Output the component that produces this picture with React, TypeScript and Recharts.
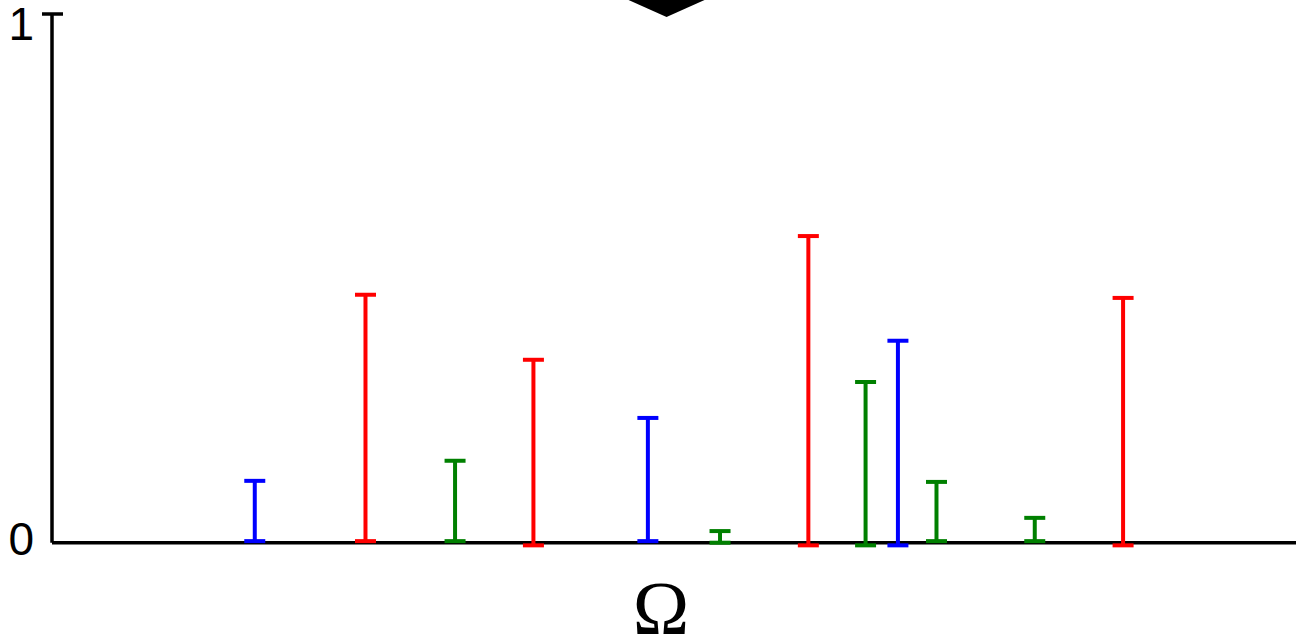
import {
  ErrorBar,
  Label,
  ReferenceDot,
  ReferenceLine,
  Scatter,
  ScatterChart,
  XAxis,
  YAxis,
} from "recharts";

// positions along Ω (0..100 across the axis) and the low / high end of each stem
const bluePos = [16.3, 47.9, 68.0];
const blueHigh = [0.117, 0.236, 0.382];
const blueLow = [0.003, 0.003, -0.005];

const redPos = [25.2, 38.7, 60.8, 86.1];
const redHigh = [0.469, 0.346, 0.58, 0.463];
const redLow = [0.003, -0.005, -0.005, -0.005];

const greenPos = [32.4, 53.7, 65.4, 71.1, 79.0];
const greenHigh = [0.155, 0.022, 0.304, 0.115, 0.047];
const greenLow = [0.003, 0.0, -0.005, 0.003, 0.003];

const yTicks = [0, 1];
const markerPos = 49.4;
const axisLabel = "Ω";

const toRows = (pos: number[], low: number[], high: number[]) =>
  pos.map((x, i) => ({ x, y: low[i], err: [0, high[i] - low[i]] }));

const series = [
  { name: "blue", color: "#0000ff", rows: toRows(bluePos, blueLow, blueHigh) },
  { name: "red", color: "#ff0000", rows: toRows(redPos, redLow, redHigh) },
  { name: "green", color: "#008000", rows: toRows(greenPos, greenLow, greenHigh) },
];

function YTick(props: any) {
  const { x, y, payload } = props;
  const top = payload.value === 1;
  return (
    <g>
      {top && (
        <line x1={x + 8} x2={x + 29} y1={y} y2={y} stroke="#000" strokeWidth={3.5} />
      )}
      <text
        x={x}
        y={y + (top ? 26 : 12)}
        textAnchor="end"
        fontSize={46}
        fontFamily="'Liberation Sans', Arial, sans-serif"
        fill="#000"
      >
        {payload.value}
      </text>
    </g>
  );
}

function Marker(props: any) {
  const { cx, cy } = props;
  return (
    <polygon
      points={`${cx - 38},${cy - 14} ${cx + 38},${cy - 14} ${cx},${cy + 3}`}
      fill="#000"
    />
  );
}

export default function App() {
  return (
    <div style={{ position: "absolute", left: 0, top: 0 }}>
      <ScatterChart
        width={1296}
        height={642}
        margin={{ top: 14, right: 0, bottom: 0, left: 0 }}
      >
        <XAxis
          type="number"
          dataKey="x"
          domain={[0, 100]}
          allowDataOverflow
          axisLine={false}
          tickLine={false}
          tick={false}
          height={94}
        >
          <Label
            value={axisLabel}
            position="insideTop"
            offset={32}
            dx={-13}
            fontSize={76}
            fontFamily="'Liberation Serif', 'Times New Roman', serif"
            fill="#000"
          />
        </XAxis>
        <YAxis
          type="number"
          dataKey="y"
          domain={[-0.01, 1]}
          allowDataOverflow
          ticks={yTicks}
          width={52}
          axisLine={false}
          tickLine={false}
          tickSize={0}
          tickMargin={18}
          tick={<YTick />}
        />
        <ReferenceLine y={0} stroke="#000" strokeWidth={3.5} />
        <ReferenceLine
          segment={[
            { x: 0, y: 0 },
            { x: 0, y: 1 },
          ]}
          stroke="#000"
          strokeWidth={3.5}
        />
        {series.map((s) => (
          <Scatter
            key={s.name}
            name={s.name}
            data={s.rows}
            fill={s.color}
            shape={() => <g />}
            isAnimationActive={false}
          >
            <ErrorBar
              dataKey="err"
              direction="y"
              width={10.5}
              stroke={s.color}
              strokeWidth={4}
              isAnimationActive={false}
            />
          </Scatter>
        ))}
        <ReferenceDot x={markerPos} y={1} r={0} shape={<Marker />} />
      </ScatterChart>
    </div>
  );
}
